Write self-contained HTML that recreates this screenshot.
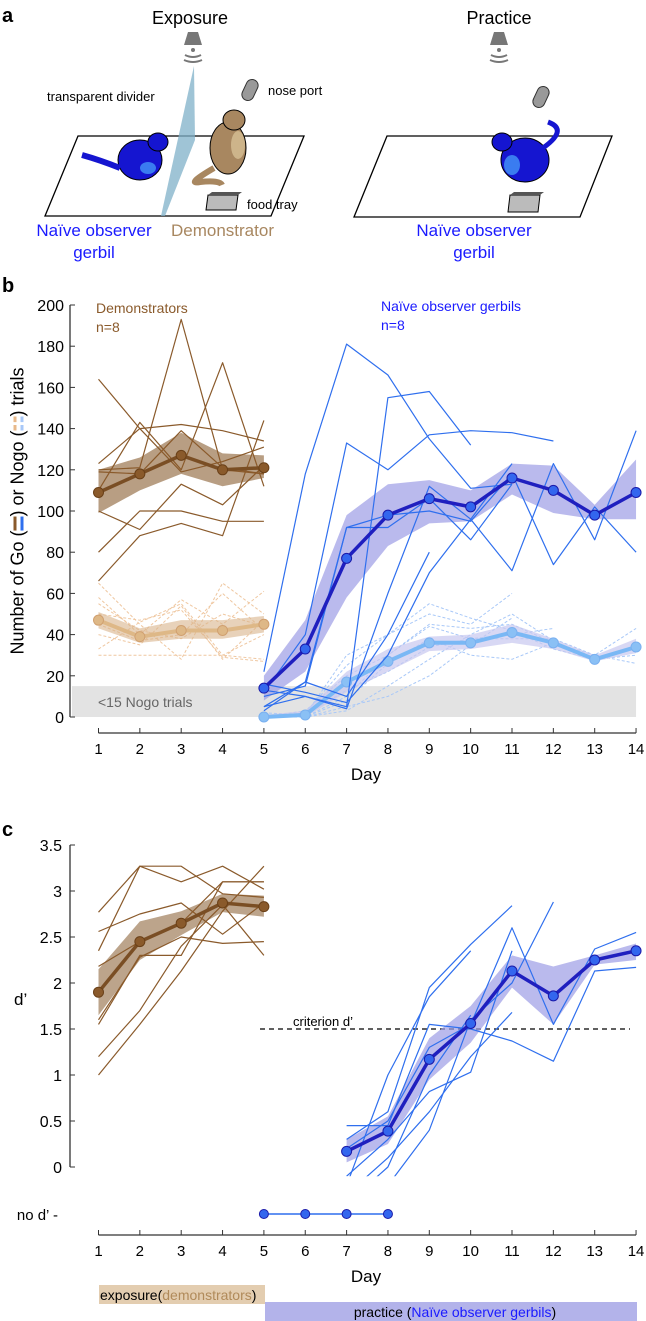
<!DOCTYPE html>
<html><head><meta charset="utf-8"><style>
body{margin:0;background:#fff;}
svg{display:block;font-family:"Liberation Sans",Arial,sans-serif;}
</style></head><body>
<svg id="fig" width="646" height="1321" viewBox="0 0 646 1321" xmlns="http://www.w3.org/2000/svg">
<!-- Panel a -->
<g>
<text x="2" y="22" font-size="20" font-weight="bold">a</text>
<text x="190" y="24" font-size="18" text-anchor="middle">Exposure</text>
<text x="499" y="24" font-size="18" text-anchor="middle">Practice</text>
<polygon points="78,136 304,136 271,216 45,216" fill="none" stroke="#000" stroke-width="1.3"/>
<polygon points="387,136 612,136 580,217 354,217" fill="none" stroke="#000" stroke-width="1.3"/>
<g fill="#777"><polygon points="188,32 198,32 202,45 184,45"/><circle cx="193" cy="50" r="2"/><path d="M185,55 Q193,59 201,55" stroke="#777" fill="none" stroke-width="2"/><path d="M184,60 Q193,64 202,60" stroke="#777" fill="none" stroke-width="2"/></g>
<g fill="#777"><polygon points="494,32 504,32 508,45 490,45"/><circle cx="499" cy="50" r="2"/><path d="M491,55 Q499,59 507,55" stroke="#777" fill="none" stroke-width="2"/><path d="M490,60 Q499,64 508,60" stroke="#777" fill="none" stroke-width="2"/></g>
<polygon points="194,66 161,216 165,216 195,140" fill="#7fb0c8" opacity="0.75"/>
<rect x="244" y="79" width="12" height="22" rx="6" fill="#999" stroke="#333" transform="rotate(25 250 90)"/>
<rect x="535" y="86" width="12" height="22" rx="6" fill="#999" stroke="#333" transform="rotate(25 541 97)"/>
<text x="47" y="101" font-size="13">transparent divider</text>
<text x="268" y="95" font-size="13">nose port</text>
<text x="247" y="209" font-size="13">food tray</text>
<g><ellipse cx="140" cy="160" rx="22" ry="20" fill="#1515d0" stroke="#000"/><ellipse cx="158" cy="142" rx="10" ry="9" fill="#1515d0" stroke="#000"/><path d="M120,168 Q100,160 82,155" stroke="#1515d0" stroke-width="6" fill="none"/><ellipse cx="148" cy="168" rx="8" ry="6" fill="#3a7cf0"/></g>
<g><ellipse cx="228" cy="148" rx="18" ry="26" fill="#a88760" stroke="#000"/><ellipse cx="234" cy="120" rx="11" ry="10" fill="#a88760" stroke="#000"/><ellipse cx="238" cy="145" rx="7" ry="14" fill="#cdb48a"/><path d="M214,168 Q185,185 200,182 Q220,180 222,185" stroke="#a88760" stroke-width="6" fill="none"/></g>
<g><ellipse cx="525" cy="160" rx="24" ry="22" fill="#1515d0" stroke="#000"/><ellipse cx="502" cy="142" rx="10" ry="9" fill="#1515d0" stroke="#000"/><ellipse cx="512" cy="165" rx="8" ry="10" fill="#3a7cf0"/><path d="M540,150 Q570,130 548,122" stroke="#1515d0" stroke-width="5" fill="none"/></g>
<g><polygon points="208,195 238,195 236,210 206,210" fill="#bbb" stroke="#000"/><polygon points="212,192 242,192 238,195 208,195" fill="#555"/></g>
<g><polygon points="510,195 540,195 538,212 508,212" fill="#bbb" stroke="#000"/><polygon points="514,192 544,192 540,195 510,195" fill="#555"/></g>
<text x="94" y="236" font-size="17" fill="#1a1aff" text-anchor="middle">Naïve observer</text>
<text x="94" y="258" font-size="17" fill="#1a1aff" text-anchor="middle">gerbil</text>
<text x="171" y="236" font-size="17" fill="#a88760">Demonstrator</text>
<text x="474" y="236" font-size="17" fill="#1a1aff" text-anchor="middle">Naïve observer</text>
<text x="474" y="258" font-size="17" fill="#1a1aff" text-anchor="middle">gerbil</text>
</g>
<g id="pb"></g>
<g id="pc"></g>
</svg>
<div style="position:absolute;left:18px;top:511px;transform:translate(-50%,-50%) rotate(-90deg);white-space:nowrap;font:18px 'Liberation Sans',Arial,sans-serif;">Number of Go (<span style="display:inline-block;width:14px;height:10px;vertical-align:middle;border-top:3px solid #8a5a2b;border-bottom:3px solid #2f6fee;box-sizing:border-box"></span>) or Nogo (<span style="display:inline-block;width:14px;height:10px;vertical-align:middle;border-top:3px dashed #e8b98a;border-bottom:3px dashed #a8c8f8;box-sizing:border-box"></span>) trials</div>
<script>
// ===== Panel b data =====
const days=[1,2,3,4,5,6,7,8,9,10,11,12,13,14];
const demoGoMean=[109,118,127,120,121];
const demoGoHi=[120,126,138,128,127];
const demoGoLo=[99,110,118,112,116];
const demoGoInd=[[164,140,119,124,131],[110,143,120,172,112],[120,121,193,120,118],[123,140,142,139,134],[100,91,113,103,122],[80,100,100,95,95],[66,88,94,88,144],[119,118,139,121,118]];
const demoNogoMean=[47,39,42,42,45];
const demoNogoHi=[51,43,47,47,49];
const demoNogoLo=[43,36,38,38,41];
const demoNogoInd=[[65,45,28,65,50],[58,40,57,45,61],[50,47,52,29,27],[33,46,55,30,40],[30,30,30,30,28],[45,37,40,60,42],[40,35,54,28,47],[55,42,38,50,44]];
const obsGoMean=[14,33,77,98,106,102,116,110,98,109];
const obsGoHi=[20,47,98,113,115,110,123,122,103,125];
const obsGoLo=[8,22,58,83,94,95,108,99,96,96];
const obsGoInd=[[22,118,181,166,135,111,113,null,null,null],[12,40,133,120,137,139,138,134,null,null],[5,10,5,155,158,132,null,null,null,null],[10,15,92,92,106,86,113,null,null,null],[13,10,4,60,112,96,71,123,86,139],[5,17,92,98,100,95,118,74,102,80],[16,12,7,30,70,96,123,null,null,null],[3,17,10,40,80,null,null,null,null,null]];
const obsNogoMean=[0,1,17,27,36,36,41,36,28,34];
const obsNogoHi=[1,3,22,33,39,40,45,38,30,38];
const obsNogoLo=[0,0,12,22,32,33,36,33,27,31];
const obsNogoInd=[[2,1,30,40,50,45,60,null,null,null],[0,3,20,30,44,38,40,43,null,null],[1,0,8,26,38,30,28,36,30,43],[0,2,25,40,55,48,42,33,28,30],[0,0,3,15,28,40,50,37,null,null],[0,1,13,22,34,38,38,38,30,26],[1,0,10,30,45,43,45,36,null,null],[0,0,5,10,20,35,48,null,null,null]];
const bYTicks=[0,20,40,60,80,100,120,140,160,180,200];
// ===== Panel c data =====
const demoDMean=[1.9,2.45,2.65,2.87,2.83];
const demoDHi=[2.15,2.67,2.78,2.97,2.95];
const demoDLo=[1.65,2.25,2.52,2.77,2.72];
const demoDInd=[[2.77,3.27,3.27,2.97,2.93],[2.35,3.27,3.1,3.27,3.02],[2.56,2.75,2.87,2.53,2.87],[2.18,2.45,2.65,3.1,3.1],[1.55,2.3,2.3,3.1,3.1],[1.2,1.7,2.4,2.85,2.3],[1.0,1.55,2.13,2.78,3.27],[1.6,2.28,2.5,2.43,2.45]];
const obsDDays=[7,8,9,10,11,12,13,14];
const obsDMean=[0.17,0.39,1.17,1.56,2.13,1.86,2.25,2.35];
const obsDHi=[0.3,0.55,1.4,1.75,2.3,2.18,2.3,2.43];
const obsDLo=[0.05,0.25,0.95,1.35,1.95,1.55,2.2,2.25];
const obsDInd=[[0.45,0.45,1.55,1.5,1.37,1.15,2.13,2.17],[0.3,0.6,1.95,2.42,2.84,null,null,null],[-0.2,1.0,1.85,2.35,null,null,null,null],[0.2,0.5,1.3,1.55,2.6,1.55,2.37,2.55],[-0.1,0.3,0.82,1.03,2.35,null,null,null],[-0.8,-0.2,0.4,1.6,2.0,2.88,null,null],[-0.4,0,1.0,1.65,null,null,null,null],[-0.3,0.1,0.6,1.2,1.68,null,null,null]];
const noDDays=[5,6,7,8];
const cYTicks=[0,0.5,1,1.5,2,2.5,3,3.5];
const criterion=1.5;

const NS="http://www.w3.org/2000/svg";
function mk(parent,tag,attrs){const e=document.createElementNS(NS,tag);for(const k in attrs)e.setAttribute(k,attrs[k]);parent.appendChild(e);return e;}
const xs=d=>98.5+(d-1)*41.35;
const yb=v=>717-v*2.06;
const yc=v=>1167-v*92;
function pathOf(dd,vals,ys){let s="",pen=false;vals.forEach((v,i)=>{if(v===null){pen=false;return;}s+=(pen?"L":"M")+xs(dd[i]).toFixed(1)+","+ys(v).toFixed(1);pen=true;});return s;}
function band(g,dd,hi,lo,ys,fill,op,name){const pts=dd.map((d,i)=>xs(d)+","+ys(hi[i])).concat(dd.map((d,i)=>xs(d)+","+ys(lo[i])).reverse());const p=mk(g,"polygon",{points:pts.join(" "),fill:fill,opacity:op});

}
function line(g,dd,vals,ys,col,w,dash,name,clip){const p=mk(g,"path",{d:pathOf(dd,vals,ys),fill:"none",stroke:col,"stroke-width":w,"stroke-linejoin":"round"});if(dash)p.setAttribute("stroke-dasharray",dash);if(clip)p.setAttribute("clip-path",clip);

}
function dots(g,dd,vals,ys,col,stroke,r,name){vals.forEach((v,i)=>{const c=mk(g,"circle",{cx:xs(dd[i]),cy:ys(v),r:r,fill:col,stroke:stroke,"stroke-width":1});

});}
function txt(g,x,y,s,attrs,name){const t=mk(g,"text",Object.assign({x:x,y:y},attrs));t.textContent=s;

return t;}

// Panel b
const pb=document.getElementById("pb");
txt(pb,2,292,"b",{"font-size":20,"font-weight":"bold"},"panel-b-label");
const gb=mk(pb,"rect",{x:72,y:yb(15),width:xs(14)-72,height:yb(0)-yb(15),fill:"#e3e3e3"});


txt(pb,98,707,"<15 Nogo trials",{"font-size":14,fill:"#666"},"threshold-label");
mk(pb,"line",{x1:70,y1:yb(0),x2:70,y2:yb(200),stroke:"#333","stroke-width":1.3});
bYTicks.forEach(v=>{mk(pb,"line",{x1:70,y1:yb(v),x2:75,y2:yb(v),stroke:"#333"});txt(pb,64,yb(v)+6,String(v),{"font-size":16,"text-anchor":"end"},"y-tick-label-b");});
mk(pb,"line",{x1:xs(1),y1:733,x2:xs(14),y2:733,stroke:"#333","stroke-width":1.3});
days.forEach(d=>{mk(pb,"line",{x1:xs(d),y1:728,x2:xs(d),y2:733,stroke:"#333"});txt(pb,xs(d),754,String(d),{"font-size":15,"text-anchor":"middle"},"x-tick-label-b");});
txt(pb,366,780,"Day",{"font-size":17,"text-anchor":"middle"},"x-axis-title-b");
txt(pb,96,313,"Demonstrators",{"font-size":14,fill:"#8a5a2b"},"legend-demonstrators");
txt(pb,96,332,"n=8",{"font-size":14,fill:"#8a5a2b"},"legend-demonstrators-n");
txt(pb,381,311,"Naïve observer gerbils",{"font-size":14,fill:"#1a1aff"},"legend-observers");
txt(pb,381,330,"n=8",{"font-size":14,fill:"#1a1aff"},"legend-observers-n");
const dd5=[1,2,3,4,5],od=[5,6,7,8,9,10,11,12,13,14];
demoNogoInd.forEach(a=>line(pb,dd5,a,yb,"#efc7a0",1,"3,2","demo-nogo-individual"));
band(pb,dd5,demoNogoHi,demoNogoLo,yb,"#d8b48c",0.6,"demo-nogo-sem");
line(pb,dd5,demoNogoMean,yb,"#deb887",4,null,"demo-nogo-mean");dots(pb,dd5,demoNogoMean,yb,"#deb887","#d0a070",5,"demo-nogo-point");
band(pb,dd5,demoGoHi,demoGoLo,yb,"#a07e5a",0.75,"demo-go-sem");
demoGoInd.forEach(a=>line(pb,dd5,a,yb,"#8a5a2b",1.2,null,"demo-go-individual"));
line(pb,dd5,demoGoMean,yb,"#7a4e24",3.5,null,"demo-go-mean");dots(pb,dd5,demoGoMean,yb,"#8a5a2b","#6a4018",5,"demo-go-point");
obsNogoInd.forEach(a=>line(pb,od,a,yb,"#a8c8f8",1,"3,2","obs-nogo-individual"));
band(pb,od,obsNogoHi,obsNogoLo,yb,"#c8c8f0",0.7,"obs-nogo-sem");
line(pb,od,obsNogoMean,yb,"#7ab8f5",4,null,"obs-nogo-mean");dots(pb,od,obsNogoMean,yb,"#8ac0f5","#7ab0f0",5,"obs-nogo-point");
band(pb,od,obsGoHi,obsGoLo,yb,"#9c9ce6",0.7,"obs-go-sem");
obsGoInd.forEach(a=>line(pb,od,a,yb,"#2f6fee",1.2,null,"obs-go-individual"));
line(pb,od,obsGoMean,yb,"#1f1fbf",3.5,null,"obs-go-mean");dots(pb,od,obsGoMean,yb,"#3366ee","#1a1aaa",5,"obs-go-point");

// Panel c
const pc=document.getElementById("pc");
const defs=mk(pc,"defs",{});const cp=mk(defs,"clipPath",{id:"clipc"});mk(cp,"rect",{x:70,y:820,width:576,height:yc(-0.1)-820});
txt(pc,2,836,"c",{"font-size":20,"font-weight":"bold"},"panel-c-label");
mk(pc,"line",{x1:70,y1:yc(0),x2:70,y2:yc(3.5),stroke:"#333","stroke-width":1.3});
cYTicks.forEach(v=>{mk(pc,"line",{x1:70,y1:yc(v),x2:75,y2:yc(v),stroke:"#333"});txt(pc,62,yc(v)+6,String(v),{"font-size":16,"text-anchor":"end"},"y-tick-label-c");});
txt(pc,14,1005,"d’",{"font-size":17},"y-axis-title-c");
txt(pc,58,1220,"no d’ -",{"font-size":15,"text-anchor":"end"},"no-d-label");
mk(pc,"line",{x1:xs(1),y1:1235,x2:xs(14),y2:1235,stroke:"#333","stroke-width":1.3});
days.forEach(d=>{mk(pc,"line",{x1:xs(d),y1:1230,x2:xs(d),y2:1235,stroke:"#333"});txt(pc,xs(d),1256,String(d),{"font-size":15,"text-anchor":"middle"},"x-tick-label-c");});
txt(pc,366,1282,"Day",{"font-size":17,"text-anchor":"middle"},"x-axis-title-c");
const cl=mk(pc,"line",{x1:260,y1:yc(criterion),x2:630,y2:yc(criterion),stroke:"#000","stroke-width":1.2,"stroke-dasharray":"5,4"});


txt(pc,293,1026,"criterion d’",{"font-size":13},"criterion-label");
band(pc,dd5,demoDHi,demoDLo,yc,"#a07e5a",0.7,"demo-d-sem");
demoDInd.forEach(a=>line(pc,dd5,a,yc,"#8a5a2b",1.2,null,"demo-d-individual"));
line(pc,dd5,demoDMean,yc,"#7a4e24",3.5,null,"demo-d-mean");dots(pc,dd5,demoDMean,yc,"#8a5a2b","#6a4018",5,"demo-d-point");
band(pc,obsDDays,obsDHi,obsDLo,yc,"#9c9ce6",0.7,"obs-d-sem");
obsDInd.forEach(a=>line(pc,obsDDays,a,yc,"#2f6fee",1.2,null,"obs-d-individual","url(#clipc)"));
line(pc,obsDDays,obsDMean,yc,"#1f1fbf",3.5,null,"obs-d-mean");dots(pc,obsDDays,obsDMean,yc,"#3366ee","#1a1aaa",5,"obs-d-point");
const ndl=mk(pc,"line",{x1:xs(noDDays[0]),y1:1214,x2:xs(noDDays[noDDays.length-1]),y2:1214,stroke:"#2f6fee","stroke-width":1.5});


noDDays.forEach(d=>{const c=mk(pc,"circle",{cx:xs(d),cy:1214,r:4.5,fill:"#3366ee",stroke:"#1a1aaa"});

});
const eb=mk(pc,"rect",{x:99,y:1285,width:166,height:19,fill:"#e3cdb0"});


const et=txt(pc,100,1300,"",{"font-size":14},"exposure-period-label");
et.innerHTML='exposure(<tspan fill="#b08a5a">demonstrators</tspan>)';
const pbr=mk(pc,"rect",{x:265,y:1302,width:372,height:19,fill:"#b3b3ea"});


const pt=txt(pc,455,1317,"",{"font-size":14,"text-anchor":"middle"},"practice-period-label");
pt.innerHTML='practice (<tspan fill="#1a1aff">Naïve observer gerbils</tspan>)';
</script>
</body></html>
